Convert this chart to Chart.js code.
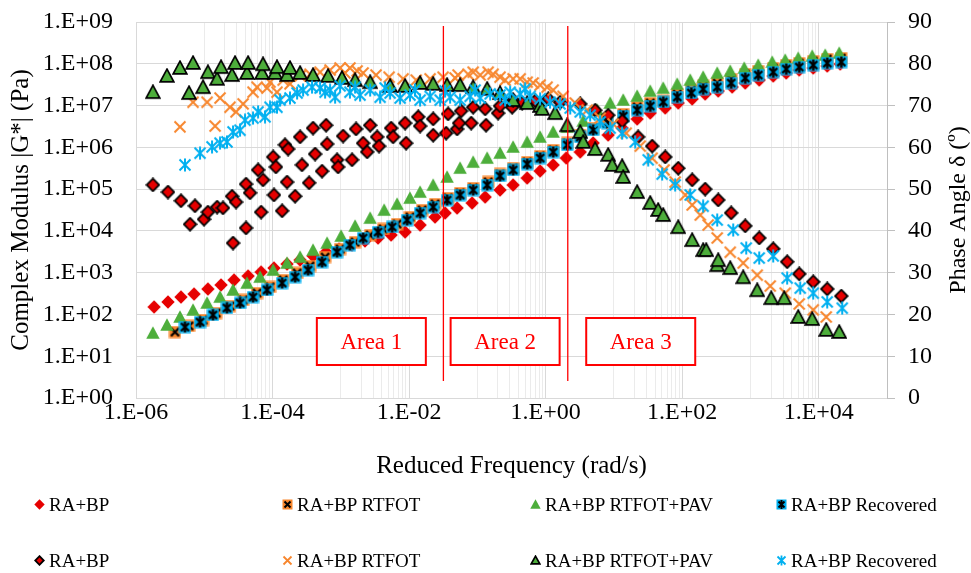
<!DOCTYPE html>
<html><head><meta charset="utf-8">
<script src="https://cdn.jsdelivr.net/npm/chart.js@4/dist/chart.umd.min.js"></script>
<style>
html,body{margin:0;padding:0;background:#fff;}
#wrap{position:relative;width:971px;height:573px;overflow:hidden;background:#fff;}
#c{position:absolute;left:0;top:0;}
.lg{position:absolute;height:22px;font-family:'Liberation Serif','Times New Roman',serif;font-size:19px;color:#000;white-space:nowrap;line-height:22px;}
.lg canvas{position:absolute;left:0;top:5px;}
.lg span{position:absolute;left:15px;top:0;}
</style></head><body>
<div id="wrap"><canvas id="c" width="971" height="573"></canvas></div>
<script>
// ---------------- DATA ----------------
const legendLabels = ['RA+BP','RA+BP RTFOT','RA+BP RTFOT+PAV','RA+BP Recovered','RA+BP','RA+BP RTFOT','RA+BP RTFOT+PAV','RA+BP Recovered'];

const xTickValues = [1e-6, 1e-4, 1e-2, 1, 1e2, 1e4];
const xTickLabels = ['1.E-06','1.E-04','1.E-02','1.E+00','1.E+02','1.E+04'];
const yTickValues = [1, 1e1, 1e2, 1e3, 1e4, 1e5, 1e6, 1e7, 1e8, 1e9];
const yTickLabels = ['1.E+00','1.E+01','1.E+02','1.E+03','1.E+04','1.E+05','1.E+06','1.E+07','1.E+08','1.E+09'];
const phaseTicks = [0,10,20,30,40,50,60,70,80,90];

// |G*| RA+BP
const freqRA_G = [1.84e-6,2.94e-6,4.56e-6,7.08e-6,1.13e-5,1.76e-5,2.73e-5,4.38e-5,6.79e-5,1.05e-4,1.63e-4,2.53e-4,3.92e-4,6.08e-4,9.42e-4,1.46e-3,2.26e-3,3.51e-3,5.45e-3,8.73e-3,1.45e-2,2.40e-2,3.37e-2,5.05e-2,8.38e-2,0.130,0.215,0.334,0.536,0.830,1.29,2.00,3.21,4.97,8.24,13.2,21.9,34.0,56.4,87.4,140,217,337,540,838,1343,2153,3342,5176,8299,13330,20650];
const gRA = [151,199,261,308,406,507,667,832,1037,1292,1610,2009,2510,3119,3680,4590,5730,6757,7970,9397,1.38e4,2.15e4,2.68e4,3.53e4,4.65e4,6.47e4,9.51e4,1.25e5,1.84e5,2.71e5,3.78e5,5.55e5,7.73e5,1.27e6,1.97e6,2.90e6,4.76e6,6.62e6,8.73e6,1.15e7,1.44e7,1.89e7,2.23e7,2.78e7,3.46e7,4.08e7,5.09e7,6.01e7,7.09e7,7.91e7,8.83e7,9.86e7];

// |G*| RA+BP RTFOT
const freqRT_G = [3.72e-6,5.98e-6,9.60e-6,1.49e-5,2.38e-5,3.70e-5,5.93e-5,9.18e-5,1.43e-4,2.29e-4,3.54e-4,5.88e-4,9.75e-4,1.62e-3,2.69e-3,4.16e-3,6.67e-3,1.03e-2,1.55e-2,2.40e-2,3.73e-2,5.59e-2,8.67e-2,0.144,0.215,0.334,0.536,0.830,1.29,2.07,3.21,4.97,7.97,13.7,21.9,34.0,52.7,84.5,136,203,326,522,838,1300,2153,3342,5176,8299,13330,21380];
const gRT = [38.0,52.9,73.6,108,159,222,326,454,667,982,1440,2371,3680,5420,7970,1.11e4,1.46e4,2.15e4,3.16e4,4.40e4,6.12e4,8.07e4,1.06e5,1.48e5,2.30e5,3.20e5,4.45e5,6.19e5,8.63e5,1.27e6,1.97e6,2.90e6,4.27e6,6.27e6,9.22e6,1.15e7,1.29e7,1.89e7,2.36e7,2.94e7,3.46e7,4.31e7,5.69e7,6.71e7,7.91e7,9.33e7,1.04e8,1.16e8,1.30e8,1.37e8];

// |G*| RA+BP RTFOT+PAV
const freqPAV_G = [1.77e-6,2.84e-6,4.41e-6,6.84e-6,1.10e-5,1.70e-5,2.64e-5,4.23e-5,6.56e-5,1.02e-4,1.63e-4,2.53e-4,3.92e-4,6.29e-4,1.01e-3,1.62e-3,2.69e-3,4.31e-3,6.67e-3,1.03e-2,1.45e-2,2.25e-2,3.60e-2,5.59e-2,8.67e-2,0.139,0.215,0.334,0.536,0.830,1.29,2.07,3.55,5.69,8.81,13.7,21.9,34.0,52.7,84.5,131,203,326,505,810,1300,2084,3231,5012,8035,12450,19950];
const gPAV = [36.0,55.9,86.9,128,188,261,385,565,787,1158,1702,2371,3483,5129,7540,1.31e4,2.03e4,3.16e4,4.40e4,6.12e4,8.52e4,1.25e5,1.95e5,3.20e5,4.45e5,5.55e5,7.31e5,1.02e6,1.34e6,1.77e6,2.33e6,3.06e6,4.27e6,7.82e6,1.15e7,1.36e7,1.69e7,2.23e7,2.63e7,3.27e7,4.08e7,4.82e7,6.01e7,6.71e7,7.91e7,9.33e7,1.10e8,1.23e8,1.37e8,1.53e8,1.62e8,1.81e8];

// |G*| RA+BP Recovered
const freqREC_G = [5.22e-6,8.67e-6,1.34e-5,2.15e-5,3.34e-5,5.18e-5,8.30e-5,1.38e-4,2.14e-4,3.31e-4,5.31e-4,8.81e-4,1.36e-3,2.12e-3,3.51e-3,5.64e-3,9.34e-3,1.45e-2,2.25e-2,3.60e-2,5.59e-2,8.67e-2,0.139,0.215,0.334,0.536,0.830,1.29,2.07,3.21,4.97,7.97,13.7,21.9,34.0,52.7,84.5,136,203,326,522,838,1300,2153,3342,5176,8299,13330,21380];
const gREC = [50.0,65.9,97.0,143,188,261,385,565,787,1158,1799,3119,4590,6757,9397,1.24e4,1.82e4,2.68e4,3.73e4,5.48e4,7.22e4,9.51e4,1.25e5,2.06e5,2.87e5,3.99e5,5.55e5,7.73e5,1.14e6,1.77e6,2.60e6,3.82e6,5.62e6,7.82e6,9.75e6,1.22e7,1.60e7,2.00e7,2.49e7,2.78e7,3.46e7,4.56e7,5.38e7,6.35e7,7.49e7,8.36e7,9.33e7,1.04e8,1.10e8];

// Phase angle RA+BP
const freqRA_P = [1.77e-6,2.94e-6,4.56e-6,6.18e-6,7.31e-6,9.91e-6,1.13e-5,1.54e-5,1.88e-5,2.55e-5,2.64e-5,2.92e-5,4.09e-5,4.09e-5,4.68e-5,6.14e-5,6.79e-5,7.26e-5,1.02e-4,1.05e-4,1.12e-4,1.38e-4,1.52e-4,1.63e-4,1.69e-4,2.14e-4,2.53e-4,2.70e-4,3.43e-4,3.92e-4,4.20e-4,5.31e-4,6.08e-4,6.29e-4,8.81e-4,9.12e-4,1.08e-3,1.46e-3,1.67e-3,2.12e-3,2.43e-3,2.69e-3,3.40e-3,3.63e-3,5.45e-3,5.83e-3,8.73e-3,9.03e-3,1.36e-2,1.45e-2,2.25e-2,2.25e-2,3.48e-2,3.73e-2,5.05e-2,5.40e-2,5.78e-2,8.11e-2,8.67e-2,0.130,0.134,0.201,0.215,0.323,0.334,0.453,0.702,1.09,1.63,3.21,5.31,8.24,13.2,22.6,36.3,56.4,87.4,140,217,337,522,838,1343,2153,3451,5176,8299,13330,21380];
const phaseRA = [51.0,49.3,47.2,41.6,46.0,42.8,44.5,45.7,45.5,48.3,37.1,46.9,40.7,51.2,49.1,54.6,44.5,52.2,57.7,48.6,55.3,44.8,60.6,51.7,59.6,48.3,62.5,55.8,51.5,64.6,58.4,54.3,65.3,60.8,57.0,55.3,62.7,57.0,64.4,61.0,58.9,65.3,62.5,60.3,64.6,62.5,65.8,61.0,67.3,65.1,66.8,62.9,63.4,68.0,64.4,65.8,68.7,65.8,69.6,69.2,65.3,68.2,69.9,69.6,71.3,70.6,71.1,71.6,70.8,70.4,68.9,67.7,66.3,62.5,60.3,57.7,55.0,52.2,50.0,47.4,44.3,41.2,38.3,35.7,32.6,29.7,27.8,26.1,24.4];

// Phase angle RA+BP RTFOT
const freqRT_P = [4.41e-6,6.84e-6,1.10e-5,1.44e-5,1.70e-5,2.38e-5,2.92e-5,3.70e-5,5.18e-5,5.93e-5,8.30e-5,9.18e-5,1.16e-4,1.43e-4,1.80e-4,2.53e-4,3.54e-4,4.97e-4,6.97e-4,9.75e-4,1.15e-3,1.36e-3,1.73e-3,2.12e-3,3.28e-3,5.09e-3,8.17e-3,1.27e-2,2.03e-2,3.15e-2,4.72e-2,5.22e-2,7.31e-2,8.67e-2,0.110,0.144,0.170,0.215,0.255,0.334,0.423,0.536,0.656,0.830,1.05,1.29,1.80,2.71,4.06,6.29,9.75,15.1,24.3,36.3,54.5,78.9,111,140,184,240,326,505,783,1256,1947,3231,5176,8299,12880];
const phaseRT = [64.9,70.8,70.8,65.1,71.8,69.6,68.5,70.4,73.2,74.4,74.2,75.6,73.2,76.1,75.2,77.1,77.5,78.0,78.5,79.0,77.8,79.0,78.3,77.8,77.3,76.8,76.4,76.1,76.4,76.8,76.6,77.3,77.5,78.0,77.3,78.0,77.5,76.8,76.1,76.4,76.4,75.6,75.4,74.9,74.4,73.7,72.2,70.6,68.9,67.0,65.6,63.4,60.3,57.4,54.6,51.7,48.6,46.2,43.8,41.4,38.3,34.9,32.3,29.4,26.8,25.1,22.5,21.1,19.4];

// Phase angle RA+BP RTFOT+PAV
const freqPAV_P = [1.77e-6,2.84e-6,4.41e-6,5.98e-6,6.84e-6,9.60e-6,1.13e-5,1.54e-5,1.76e-5,2.55e-5,2.82e-5,4.23e-5,4.38e-5,7.02e-5,7.26e-5,1.09e-4,1.16e-4,1.63e-4,1.80e-4,2.53e-4,3.92e-4,6.50e-4,1.04e-3,1.62e-3,2.69e-3,5.27e-3,8.73e-3,1.45e-2,2.25e-2,3.60e-2,5.59e-2,8.67e-2,0.139,0.215,0.334,0.536,0.830,0.889,1.38,2.07,3.21,3.55,5.31,8.24,9.44,13.2,13.7,21.9,34.0,44.5,52.7,87.4,140,203,225,326,337,505,783,1256,2014,3126,5012,8035,12880,19950];
const phasePAV = [73.2,77.1,79.0,73.0,80.2,74.4,78.0,76.4,79.2,77.3,80.2,77.8,80.2,77.8,79.9,77.8,79.2,77.3,79.0,77.8,77.3,77.1,76.6,76.1,75.6,74.7,74.7,75.4,75.2,74.9,74.9,74.4,74.0,73.0,71.3,70.6,69.9,69.2,68.2,65.3,63.7,61.3,59.6,58.2,55.8,55.5,52.9,49.3,46.7,45.0,43.8,40.9,37.8,35.4,35.4,31.8,33.0,31.1,28.9,25.8,23.9,23.9,19.4,18.9,16.3,15.8];

// Phase angle RA+BP Recovered
const freqREC_P = [5.22e-6,8.67e-6,1.30e-5,1.70e-5,2.15e-5,2.64e-5,3.34e-5,3.95e-5,5.18e-5,6.14e-5,7.76e-5,9.18e-5,1.16e-4,1.29e-4,1.80e-4,2.29e-4,2.80e-4,3.79e-4,4.97e-4,5.88e-4,6.97e-4,8.24e-4,9.75e-4,1.36e-3,1.62e-3,1.91e-3,2.69e-3,3.76e-3,4.45e-3,5.27e-3,7.38e-3,1.03e-2,1.22e-2,1.45e-2,2.03e-2,2.85e-2,3.37e-2,3.99e-2,5.59e-2,7.83e-2,9.27e-2,0.110,0.154,0.215,0.255,0.302,0.423,0.501,0.593,0.830,1.16,1.63,2.29,3.21,4.49,6.29,8.81,13.2,20.5,31.8,50.9,78.9,131,203,326,559,867,1343,2153,3451,5358,8299,13330,22080];
const phaseREC = [55.8,58.6,60.1,61.0,61.3,63.7,64.1,66.5,67.0,68.5,67.3,69.6,69.6,71.3,71.8,73.0,73.7,74.4,74.2,73.2,73.7,72.0,74.7,73.2,74.4,72.5,73.7,72.0,74.2,73.0,71.8,72.5,73.7,71.3,72.2,71.3,73.5,72.0,71.3,72.2,73.7,71.8,72.8,72.5,71.3,73.2,72.8,74.0,72.2,71.6,70.8,70.4,69.4,68.5,67.7,66.1,64.6,63.4,61.3,57.0,53.6,51.0,48.6,45.9,42.6,40.2,35.9,33.5,34.0,28.7,26.3,25.1,23.0,21.5];

// Area boundaries and labels
const areaBoundaries = [0.0318, 2.11];
const boundaryTop = 8.0e8, boundaryBottom = 2.55;
const areaLabels = ['Area 1','Area 2','Area 3'];
const areaLabelFreq = [2.8e-3, 0.255, 24.7];
const areaLabelG = 22.5;

// ---------------- STYLE ----------------
const SERIF = "'Liberation Serif','Times New Roman',serif";
const RED = '#e60000', ORANGE = '#f7862d', GREEN = '#4dae3b', BLUE = '#00b0f0';

function mk(kind, s) {
  const c = document.createElement('canvas'); c.width = s; c.height = s;
  const g = c.getContext('2d'); const h = s / 2;
  g.lineJoin = 'miter';
  if (kind === 'diamond' || kind === 'diamondB') {
    const i = kind === 'diamondB' ? 1.2 : 0.3;
    g.beginPath(); g.moveTo(h, i); g.lineTo(s - i, h); g.lineTo(h, s - i); g.lineTo(i, h); g.closePath();
    g.fillStyle = RED; g.fill();
    if (kind === 'diamondB') { g.lineWidth = 1.8; g.strokeStyle = '#000'; g.stroke(); }
  } else if (kind === 'tri' || kind === 'triB') {
    const i = kind === 'triB' ? 1.2 : 0.3;
    g.beginPath(); g.moveTo(h, i); g.lineTo(s - i, s - i - 1); g.lineTo(i, s - i - 1); g.closePath();
    g.fillStyle = GREEN; g.fill();
    if (kind === 'triB') { g.lineWidth = 1.7; g.strokeStyle = '#000'; g.stroke(); }
  } else if (kind === 'sqX' || kind === 'sqStar') {
    g.fillStyle = kind === 'sqX' ? ORANGE : BLUE; g.fillRect(0.5, 0.5, s - 1, s - 1);
    g.strokeStyle = '#000'; g.lineWidth = s > 12 ? 2.4 : 2; const p = 2.5;
    g.beginPath(); g.moveTo(p, p); g.lineTo(s - p, s - p); g.moveTo(s - p, p); g.lineTo(p, s - p);
    if (kind === 'sqStar') { g.moveTo(h, 1); g.lineTo(h, s - 1); }
    g.stroke();
  } else if (kind === 'x' || kind === 'star') {
    g.strokeStyle = kind === 'x' ? ORANGE : BLUE; g.lineWidth = s > 12 ? 2 : 1.8; const p = 1.5;
    g.beginPath(); g.moveTo(p, p); g.lineTo(s - p, s - p); g.moveTo(s - p, p); g.lineTo(p, s - p);
    if (kind === 'star') { g.moveTo(h, 0.5); g.lineTo(h, s - 0.5); }
    g.stroke();
  }
  return c;
}

const kinds = ['diamond','sqX','tri','sqStar','diamondB','x','triB','star'];
const plotSizes = [14, 13, 14, 13, 15, 14, 16, 14];
const legendSizes = [11, 11, 11, 11, 11, 11, 11, 11];

function pts(xs, ys) { return xs.map((x, i) => ({ x: x, y: ys[i] })); }
const seriesData = [
  [freqRA_G, gRA, 'y'], [freqRT_G, gRT, 'y'], [freqPAV_G, gPAV, 'y'], [freqREC_G, gREC, 'y'],
  [freqRA_P, phaseRA, 'y2'], [freqRT_P, phaseRT, 'y2'], [freqPAV_P, phasePAV, 'y2'], [freqREC_P, phaseREC, 'y2']
];
const datasets = seriesData.map((s, i) => ({
  label: legendLabels[i], data: pts(s[0], s[1]), yAxisID: s[2],
  pointStyle: mk(kinds[i], plotSizes[i]), pointRadius: 6, showLine: false, order: 8 - i
}));
areaBoundaries.forEach(b => datasets.push({
  label: '', type: 'line', data: [{ x: b, y: boundaryTop }, { x: b, y: boundaryBottom }], yAxisID: 'y',
  borderColor: '#ff0000', borderWidth: 1.3, pointRadius: 0, showLine: true, order: 0
}));

const minorGrid = [];
[1e-5, 1e-3, 1e-1, 1e1, 1e3].forEach(d => { for (let m = 1; m <= 9; m++) minorGrid.push(d * m); });
const xGridAll = xTickValues.concat(minorGrid, [1e5]).sort((a, b) => a - b);
const isMajorX = v => xTickValues.some(t => Math.abs(Math.log10(t) - Math.log10(v)) < 1e-6);

const overlayPlugin = {
  id: 'overlay',
  afterDatasetsDraw(chart) {
    const { ctx, scales: { x, y } } = chart;
    ctx.save();
    areaLabels.forEach((t, i) => {
      const cx = x.getPixelForValue(areaLabelFreq[i]), cy = y.getPixelForValue(areaLabelG);
      const w = 109, h = 47;
      ctx.fillStyle = '#fff'; ctx.fillRect(cx - w / 2, cy - h / 2, w, h);
      ctx.strokeStyle = '#ff0000'; ctx.lineWidth = 2; ctx.strokeRect(cx - w / 2, cy - h / 2, w, h);
      ctx.fillStyle = '#ff0000'; ctx.font = '23px ' + SERIF; ctx.textAlign = 'center'; ctx.textBaseline = 'middle';
      ctx.fillText(t, cx, cy + 1);
    });
    ctx.restore();
  },
  afterDraw(chart) {
    const { ctx, chartArea } = chart;
    ctx.save();
    ctx.translate(959, (chartArea.top + chartArea.bottom) / 2);
    ctx.rotate(-Math.PI / 2);
    ctx.fillStyle = '#000'; ctx.font = '24px ' + SERIF; ctx.textAlign = 'center'; ctx.textBaseline = 'middle';
    ctx.fillText('Phase Angle \u03b4 (\u00ba)', 0, 0);
    ctx.restore();
  }
};

new Chart(document.getElementById('c'), {
  type: 'scatter',
  data: { datasets: datasets },
  plugins: [overlayPlugin],
  options: {
    responsive: false, animation: false, devicePixelRatio: 1,
    layout: { padding: { left: 0, right: 0, top: 22, bottom: 90 } },
    plugins: { legend: { display: false }, tooltip: { enabled: false } },
    scales: {
      x: {
        type: 'logarithmic', position: 'bottom', min: 1e-6, max: 1e5,
        afterBuildTicks: s => { s.ticks = xGridAll.map(v => ({ value: v })); },
        afterFit: s => { s.height = 85; s.paddingLeft = 0; s.paddingRight = 0; },
        ticks: {
          autoSkip: false, maxRotation: 0, minRotation: 0, padding: 0, color: '#000',
          font: { family: SERIF, size: 24 },
          callback: v => { const i = xTickValues.findIndex(t => Math.abs(Math.log10(t) - Math.log10(v)) < 1e-6); return i >= 0 ? xTickLabels[i] : ''; }
        },
        grid: { drawTicks: false, color: c => (c.tick && isMajorX(c.tick.value)) ? '#d9d9d9' : '#ebebeb', lineWidth: 1 },
        border: { color: '#d9d9d9' },
        title: { display: true, text: 'Reduced Frequency (rad/s)', color: '#000', font: { family: SERIF, size: 25 }, padding: { top: 0, bottom: 2 } }
      },
      y: {
        type: 'logarithmic', position: 'left', min: 1, max: 1e9,
        afterBuildTicks: s => { s.ticks = yTickValues.map(v => ({ value: v })); },
        afterFit: s => { s.width = 136; s.paddingTop = 0; s.paddingBottom = 0; },
        ticks: {
          autoSkip: false, padding: 23, color: '#000', font: { family: SERIF, size: 24 },
          callback: v => { const i = yTickValues.findIndex(t => Math.abs(Math.log10(t) - Math.log10(v)) < 1e-6); return i >= 0 ? yTickLabels[i] : ''; }
        },
        grid: { drawTicks: false, color: '#d9d9d9', lineWidth: 1 },
        border: { color: '#d9d9d9' },
        title: { display: true, text: 'Complex Modulus |G*| (Pa)', color: '#000', font: { family: SERIF, size: 25 }, padding: { top: 6, bottom: 0 } }
      },
      y2: {
        type: 'linear', position: 'right', min: 0, max: 90,
        afterBuildTicks: s => { s.ticks = phaseTicks.map(v => ({ value: v })); },
        afterFit: s => { s.width = 84; s.paddingTop = 0; s.paddingBottom = 0; },
        ticks: { padding: 13, color: '#000', font: { family: SERIF, size: 24 } },
        grid: { drawOnChartArea: false, drawTicks: true, tickLength: 8, color: '#bfbfbf' },
        border: { color: '#bfbfbf' }
      }
    }
  }
});

// ---------------- HTML legend ----------------
const colX = [40, 288, 536, 782], rowY = [505, 561];
const wrap = document.getElementById('wrap');
legendLabels.forEach((t, i) => {
  const d = document.createElement('div'); d.className = 'lg';
  d.style.left = (colX[i % 4] - 6) + 'px'; d.style.top = (rowY[Math.floor(i / 4)] - 11) + 'px';
  const m = mk(kinds[i], legendSizes[i]);
  const sp = document.createElement('span'); sp.textContent = t;
  d.appendChild(m); d.appendChild(sp); wrap.appendChild(d);
});
</script>
</body></html>
